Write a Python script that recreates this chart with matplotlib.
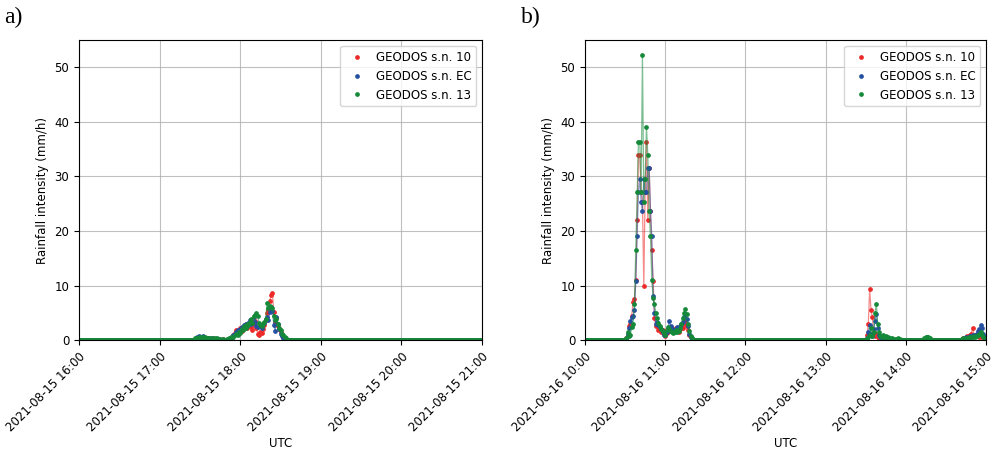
#!/usr/bin/env python

import pandas as pd
from matplotlib import pyplot as plt
import matplotlib.dates as mdates

# Plot config
figsize = (9.91, 4.51)
dpi = 100
font_size = 8.5
col_10 = '#ec2a2a'
col_ec = '#2450a0'
col_13 = '#15893a'

# Panel a) 2021-08-15, 1-minute rainfall intensity (mm/h); zero outside the listed window
a_range = ('2021-08-15 16:00', '2021-08-15 21:00')
a_start = '2021-08-15 17:26'
a_sn10 = [0.1, 0.2, 0.3, 0.2, 0.4, 0.3, 0.5, 0.4, 0.3, 0.2, 0.3, 0.2, 0.1, 0.2, 0.3, 0.2, 0.1, 0.2, 0.1, 0,
          0.1, 0.2, 0.1, 0, 0.1, 0, 0.1, 0.3,
          0.5, 0.9, 1.3, 1.8, 1.1, 1.6, 2.3, 1.7, 2.1, 2.6, 2.9, 2.2, 2.7, 3.1, 2.4, 1.9, 2.9, 3.5,
          2.3, 1.2, 0.9, 1.5, 1.3, 2.1, 2.8, 3.6, 4.9, 5.6, 7.1, 8.2, 8.7, 5.1, 3.3, 4.1, 2.6, 2.0,
          1.5, 1.0, 0.5, 0.2, 0.1, 0, 0]
a_snec = [0.2, 0.3, 0.5, 0.7, 0.6, 0.5, 0.7, 0.4, 0.3, 0.4, 0.2, 0.3, 0.2, 0.3, 0.2, 0.1, 0.2, 0.1, 0.2, 0.1,
          0, 0.1, 0, 0.1, 0, 0.1, 0.2, 0.4,
          0.6, 1.0, 1.1, 1.5, 1.9, 1.4, 2.0, 2.4, 2.2, 2.8, 3.0, 2.5, 3.2, 3.6, 2.9, 3.4, 4.2, 3.3,
          2.6, 2.4, 2.5, 2.7, 2.2, 2.9, 3.1, 3.8, 4.3, 3.6, 5.1, 6.0, 5.4, 2.8, 1.6, 4.2, 3.0, 2.0,
          1.2, 0.8, 0.4, 0.2, 0.1, 0, 0]
a_sn13 = [0.3, 0.4, 0.3, 0.5, 0.4, 0.6, 0.5, 0.4, 0.5, 0.3, 0.4, 0.3, 0.2, 0.3, 0.2, 0.3, 0.2, 0.3, 0.1, 0.2,
          0.1, 0.2, 0.1, 0.1, 0.2, 0.1, 0.3, 0.6,
          0.3, 0.6, 1.0, 1.2, 1.0, 1.4, 1.3, 2.0, 1.8, 2.6, 2.2, 3.0, 2.7, 3.3, 3.8, 3.2, 4.4, 4.6,
          5.0, 4.5, 3.2, 2.8, 2.5, 2.9, 3.3, 3.9, 6.8, 5.8, 6.2, 6.0, 5.8, 4.4, 3.7, 3.9, 2.9, 2.2,
          1.8, 1.2, 0.9, 0.5, 0.3, 0.1, 0]

# Panel b) 2021-08-16, four rainy windows
b_range = ('2021-08-16 10:00', '2021-08-16 15:00')
b_start_1 = '2021-08-16 10:31'
b_sn10_1 = [0.3, 0.8, 2.5, 3.0, 4.5, 7.0, 7.5, 11.0, 22.0, 34.0, 34.0, 27.2, 25.4, 10.0, 27.2, 36.4,
            22.0, 31.5, 23.6, 16.5, 10.8, 4.0, 2.5,
            2.5, 1.8, 2.2, 1.5, 1.8, 1.2, 0.8, 1.3, 2.0, 1.7, 1.9, 2.2, 1.6, 1.9, 2.3, 1.8, 1.5,
            2.0, 2.6, 2.2, 3.0, 3.5, 2.6, 1.8, 1.0, 0.5, 0.2, 0.1, 0]
b_snec_1 = [0.2, 1.2, 2.2, 3.5, 4.2, 4.5, 5.5, 10.8, 19.0, 27.2, 29.5, 25.4, 23.6, 29.5, 27.2, 27.2,
            31.5, 31.5, 23.6, 19.0, 8.0, 5.0, 3.0,
            3.3, 2.8, 2.4, 2.0, 1.5, 1.0, 0.9, 1.4, 1.8, 3.5, 2.6, 2.0, 1.8, 1.6, 2.1, 2.4, 2.0,
            2.5, 3.0, 3.3, 4.3, 4.8, 3.8, 2.5, 1.2, 0.6, 0.3, 0.1, 0]
b_sn13_1 = [0.4, 1.5, 0.8, 1.0, 2.4, 3.0, 6.6, 16.5, 27.2, 36.4, 36.4, 27.2, 52.3, 25.4, 29.5, 39.1,
            34.0, 23.6, 19.0, 11.0, 7.8, 6.6, 5.0,
            4.0, 3.2, 2.5, 2.0, 1.6, 1.3, 1.0, 1.8, 2.4, 2.0, 1.7, 1.5, 1.3, 1.5, 1.8, 1.4, 1.6,
            2.2, 2.9, 4.0, 5.0, 5.7, 4.8, 3.0, 1.6, 0.8, 0.4, 0.1, 0]

b_start_2 = '2021-08-16 13:30'
b_sn10_2 = [0, 1.0, 3.0, 9.3, 5.6, 4.2, 1.5, 0.8, 1.2, 0.6, 0.4, 0.3, 0.5, 0.3, 0.2, 0.4, 0.2, 0.1, 0.2, 0.1,
            0, 0.1, 0, 0, 0.1, 0, 0, 0, 0]
b_snec_2 = [0, 0.3, 1.5, 2.8, 1.2, 0.8, 2.0, 3.5, 4.8, 2.2, 1.0, 0.6, 0.4, 0.5, 0.3, 0.2, 0.3, 0.2, 0.1, 0.1,
            0, 0.1, 0, 0, 0, 0, 0, 0, 0]
b_sn13_2 = [0, 0.2, 0.5, 1.0, 2.2, 0.8, 1.5, 5.0, 6.6, 3.0, 1.5, 0.8, 0.6, 1.0, 0.5, 0.7, 0.4, 0.5, 0.3, 0.2,
            0.3, 0.2, 0.1, 0.2, 0.3, 0.1, 0.2, 0.1, 0]

b_start_3 = '2021-08-16 14:13'
b_sn10_3 = [0, 0.1, 0.2, 0.3, 0.2, 0.1, 0, 0]
b_snec_3 = [0, 0.2, 0.4, 0.5, 0.4, 0.2, 0.1, 0]
b_sn13_3 = [0.1, 0.3, 0.5, 0.6, 0.5, 0.3, 0.1, 0]

b_start_4 = '2021-08-16 14:40'
b_sn10_4 = [0, 0.1, 0.2, 0.3, 0.4, 0.6, 0.8, 0.7, 1.0, 1.2, 2.3, 1.0, 0.8, 1.1, 0.9, 0.6, 0.5, 0.8, 0.5, 0.3, 0.2]
b_snec_4 = [0, 0, 0.1, 0.2, 0.3, 0.5, 0.4, 0.6, 0.8, 0.7, 1.0, 0.8, 1.0, 1.2, 1.6, 2.0, 2.7, 2.2, 1.2, 0.6, 0.3]
b_sn13_4 = [0, 0.1, 0.2, 0.3, 0.2, 0.4, 0.3, 0.5, 0.4, 0.6, 0.5, 0.7, 0.5, 0.8, 1.0, 1.2, 1.5, 1.0, 0.6, 0.4, 0.2]

labels = ['GEODOS s.n. 10', 'GEODOS s.n. EC', 'GEODOS s.n. 13']
colors = [col_10, col_ec, col_13]


def build_series(t_range, pieces):
    # 1-minute record, dry (0 mm/h) outside the rainy windows
    idx = pd.date_range(t_range[0], t_range[1], freq='1min')
    s = pd.Series(0.0, index=idx)
    for start, values in pieces:
        t = pd.date_range(start, periods=len(values), freq='1min')
        s.loc[t] = values
    return s


panel_a = [build_series(a_range, [(a_start, a_sn10)]),
           build_series(a_range, [(a_start, a_snec)]),
           build_series(a_range, [(a_start, a_sn13)])]
panel_b = [build_series(b_range, [(b_start_1, b_sn10_1), (b_start_2, b_sn10_2),
                                  (b_start_3, b_sn10_3), (b_start_4, b_sn10_4)]),
           build_series(b_range, [(b_start_1, b_snec_1), (b_start_2, b_snec_2),
                                  (b_start_3, b_snec_3), (b_start_4, b_snec_4)]),
           build_series(b_range, [(b_start_1, b_sn13_1), (b_start_2, b_sn13_2),
                                  (b_start_3, b_sn13_3), (b_start_4, b_sn13_4)])]

fig = plt.figure(figsize=figsize, dpi=dpi)
ax_a = fig.add_axes([0.0797, 0.246, 0.4067, 0.665])
ax_b = fig.add_axes([0.5903, 0.246, 0.4046, 0.665])

for ax, series, t_range, tag, tag_x in [(ax_a, panel_a, a_range, 'a)', 0.004),
                                        (ax_b, panel_b, b_range, 'b)', 0.526)]:
    for s, c, lab in zip(series, colors, labels):
        ax.plot(s.index, s.values, color=c, lw=0.9, alpha=0.55)
        ax.plot(s.index, s.values, ls='', marker='o', ms=2.4, color=c, label=lab)
    ax.set_xlim(pd.Timestamp(t_range[0]), pd.Timestamp(t_range[1]))
    ax.set_ylim(0, 55)
    ax.set_yticks(range(0, 51, 10))
    ax.xaxis.set_major_locator(mdates.HourLocator())
    ax.xaxis.set_major_formatter(mdates.DateFormatter('%Y-%m-%d %H:%M'))
    ax.grid(True, color='#b0b0b0', lw=0.8, alpha=0.8)
    ax.tick_params(labelsize=font_size)
    for lbl in ax.get_xticklabels():
        lbl.set_rotation(45)
        lbl.set_ha('right')
        lbl.set_rotation_mode('anchor')
    ax.set_xlabel('UTC', size=font_size, labelpad=2)
    ax.set_ylabel('Rainfall intensity (mm/h)', size=font_size)
    ax.legend(loc='upper right', fontsize=font_size, markerscale=1.0, handletextpad=0.6)
    fig.text(tag_x, 0.985, tag, family='Liberation Serif', size=17, va='top', ha='left')

fig.savefig('out.png', dpi=dpi)
